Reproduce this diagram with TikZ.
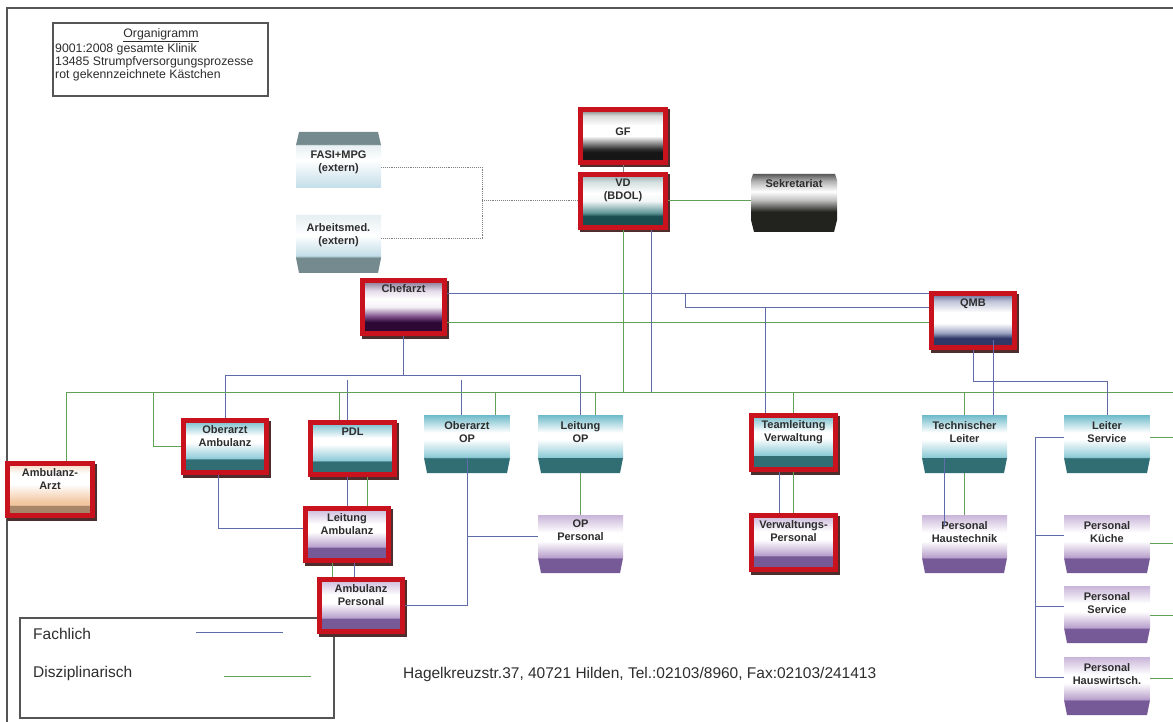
\documentclass[tikz,border=0pt]{standalone}
\usepackage{fontspec}
\setmainfont{Liberation Sans}
\usetikzlibrary{backgrounds}

\definecolor{fachc}{RGB}{96,108,170}
\definecolor{disc}{RGB}{98,160,88}
\definecolor{redf}{RGB}{200,18,30}
\definecolor{rshad}{RGB}{80,45,45}
\definecolor{framec}{RGB}{85,85,85}
\definecolor{txtc}{RGB}{45,45,45}
\definecolor{tTop}{RGB}{110,186,202}
\definecolor{tLow}{RGB}{140,202,214}
\definecolor{tBand}{RGB}{48,110,116}
\definecolor{pTop}{RGB}{200,180,216}
\definecolor{pLow}{RGB}{184,160,204}
\definecolor{pBand}{RGB}{118,90,152}
\definecolor{gfTop}{RGB}{108,108,108}
\definecolor{gfLt}{RGB}{216,216,216}
\definecolor{gfDk}{RGB}{48,48,48}
\definecolor{gfBand}{RGB}{22,22,22}
\definecolor{vdTop}{RGB}{143,165,168}
\definecolor{vdLt}{RGB}{213,224,224}
\definecolor{vdMid}{RGB}{95,148,150}
\definecolor{vdBand}{RGB}{26,77,80}
\definecolor{chTop}{RGB}{122,104,136}
\definecolor{chLt}{RGB}{230,220,234}
\definecolor{chMid}{RGB}{122,74,134}
\definecolor{chBand}{RGB}{45,8,52}
\definecolor{qmTop}{RGB}{90,96,144}
\definecolor{qmLt}{RGB}{192,196,216}
\definecolor{qmMid}{RGB}{160,166,196}
\definecolor{qmBand}{RGB}{46,55,102}
\definecolor{aaTop}{RGB}{244,213,187}
\definecolor{aaMid}{RGB}{242,198,160}
\definecolor{aaBand}{RGB}{168,132,104}
\definecolor{skTop}{RGB}{90,90,90}
\definecolor{skLt}{RGB}{176,176,176}
\definecolor{skMid}{RGB}{192,192,192}
\definecolor{skDk}{RGB}{34,34,30}
\definecolor{exBand}{RGB}{116,138,142}
\definecolor{exLt}{RGB}{230,239,242}
\definecolor{exLow}{RGB}{195,221,232}

\pgfdeclareverticalshading{tealsh}{100bp}{color(0bp)=(tBand); color(38bp)=(tBand); color(38.5bp)=(tLow); color(54bp)=(white); color(60bp)=(white); color(75bp)=(tTop); color(100bp)=(tTop)}
\pgfdeclareverticalshading{purpsh}{100bp}{color(0bp)=(pBand); color(37.5bp)=(pBand); color(38.5bp)=(pLow); color(52.5bp)=(white); color(60bp)=(white); color(75bp)=(pTop); color(100bp)=(pTop)}
\pgfdeclareverticalshading{gfsh}{100bp}{color(0bp)=(gfBand); color(35bp)=(gfBand); color(38bp)=(gfDk); color(50bp)=(white); color(60bp)=(white); color(69bp)=(gfLt); color(75bp)=(gfTop); color(100bp)=(gfTop)}
\pgfdeclareverticalshading{vdsh}{100bp}{color(0bp)=(vdBand); color(36bp)=(vdBand); color(39bp)=(vdMid); color(50bp)=(white!92!vdMid); color(57.5bp)=(white); color(67.5bp)=(vdLt); color(75bp)=(vdTop); color(100bp)=(vdTop)}
\pgfdeclareverticalshading{chsh}{100bp}{color(0bp)=(chBand); color(36bp)=(chBand); color(41bp)=(chMid); color(50bp)=(white!92!chMid); color(57.5bp)=(white); color(65bp)=(chLt); color(75bp)=(chTop); color(100bp)=(chTop)}
\pgfdeclareverticalshading{qmsh}{100bp}{color(0bp)=(qmBand); color(34bp)=(qmBand); color(39bp)=(qmMid); color(47.5bp)=(white); color(57.5bp)=(white); color(67.5bp)=(qmLt); color(75bp)=(qmTop); color(100bp)=(qmTop)}
\pgfdeclareverticalshading{aash}{100bp}{color(0bp)=(aaBand); color(35bp)=(aaBand); color(35.5bp)=(aaMid); color(38bp)=(aaMid); color(55bp)=(white); color(65bp)=(white); color(75bp)=(aaTop); color(100bp)=(aaTop)}
\pgfdeclareverticalshading{seksh}{100bp}{color(0bp)=(skDk); color(42.5bp)=(skDk); color(52.5bp)=(skMid); color(60bp)=(white); color(69bp)=(skLt); color(75bp)=(skTop); color(100bp)=(skTop)}
\pgfdeclareverticalshading{fash}{100bp}{color(0bp)=(exLow); color(25bp)=(exLow); color(50bp)=(white); color(63.5bp)=(exLt); color(64bp)=(exBand); color(75bp)=(exBand); color(100bp)=(exBand)}
\pgfdeclareverticalshading{arsh}{100bp}{color(0bp)=(exBand); color(38bp)=(exBand); color(40bp)=(exLow); color(57.5bp)=(white); color(75bp)=(exLt); color(100bp)=(exLt)}

\tikzset{
  fach/.style={draw=fachc, line width=1pt},
  dis/.style={draw=disc, line width=1pt},
  dotc/.style={draw=gray, line width=0.9pt, densely dotted},
  greyc/.style={draw=gray, line width=1pt},
  redframe/.style={draw=redf, line width=5pt},
  boxanchor/.style={rectangle, draw=none, inner sep=0pt, outer sep=0pt},
  lbl/.style={font=\bfseries\fontsize{11}{13}\selectfont, align=center, anchor=north, inner sep=0pt, text=txtc},
  legframe/.style={draw=framec, line width=1.1pt}
}

% red-framed box: [first-line baseline offset]{name}{x1}{y1}{x2}{y2}{shading}{text}
\newcommand{\RBox}[8][15]{%
  \fill[rshad] (#3+1.5,#4+2.5) rectangle (#5+1.5,#6+2.5);
  \shade[shading=#7] (#3+2,#4+2) rectangle (#5-2,#6-2);
  \draw[redframe] (#3+2.5,#4+2.5) rectangle (#5-2.5,#6-2.5);
  \node[boxanchor, minimum width={(#5-#3)*1pt}, minimum height={(#6-#4)*1pt}] (#2) at ({(#3+#5)/2},{(#4+#6)/2}) {};
  \node[lbl] at ({(#3+#5)/2},#4+#1-8) {#8};
}
% tab box with bevelled bottom band
\newcommand{\TBox}[8][15]{%
  \shade[shading=#7] (#3,#4) -- (#5,#4) -- (#5,#6-15) -- (#5-3,#6) -- (#3+3,#6) -- (#3,#6-15) -- cycle;
  \node[boxanchor, minimum width={(#5-#3)*1pt}, minimum height={(#6-#4)*1pt}] (#2) at ({(#3+#5)/2},{(#4+#6)/2}) {};
  \node[lbl] at ({(#3+#5)/2},#4+#1-8) {#8};
}

\begin{document}
\begin{tikzpicture}[x=1pt,y=-1pt]
\useasboundingbox (0,0) rectangle (1173,722);
\fill[white] (0,0) rectangle (1173,722);

% outer frame
\draw[draw=framec, line width=1.2pt] (7,722) -- (7,8) -- (1173,8);

% top-left legend
\draw[legframe] (53,23) rectangle (268,96);
\node[anchor=base, inner sep=0pt, font=\fontsize{12.3}{13.6}\selectfont, text=txtc] (legTitle) at (161,37.5) {\underline{Organigramm}};
\node[anchor=north west, align=left, inner sep=0pt, font=\fontsize{12.3}{13.4}\selectfont, text=txtc] (legText) at (55,43) {9001:2008 gesamte Klinik\\13485 Strumpfversorgungsprozesse\\rot gekennzeichnete Kästchen};

% bottom legend
\draw[legframe] (20,618) rectangle (334,718);
\node[anchor=base west, inner sep=0pt, font=\fontsize{15.5}{16}\selectfont, text=txtc] (legF) at (33,639.5) {Fachlich};
\node[anchor=base west, inner sep=0pt, font=\fontsize{15.5}{16}\selectfont, text=txtc] (legD) at (33,677.5) {Disziplinarisch};
\draw[fach] (196,632) -- (283,632);
\draw[dis] (224,676) -- (311,676);
\node[anchor=base west, inner sep=0pt, font=\fontsize{15.5}{16}\selectfont, text=txtc] (addr) at (403,678.5) {Hagelkreuzstr.37, 40721 Hilden, Tel.:02103/8960, Fax:02103/241413};

% external boxes
\shade[shading=fash] (299,132) -- (378,132) -- (381,145) -- (381,188) -- (296,188) -- (296,145) -- cycle;
\node[boxanchor, minimum width=85pt, minimum height=56pt] (fasi) at (338.5,160) {};
\node[lbl] at (338.5,151) {FASI+MPG\\(extern)};
\TBox[16]{arb}{296}{215}{381}{273}{arsh}{Arbeitsmed.\\(extern)}

% Sekretariat
\shade[shading=seksh] (753,174) -- (835,174) -- (837,180) -- (837,220) -- (834,232) -- (754,232) -- (751,220) -- (751,180) -- cycle;
\node[boxanchor, minimum width=86pt, minimum height=58pt] (sek) at (794,203) {};
\node[lbl] at (794,179) {Sekretariat};

% red boxes
\RBox[29]{gf}{578}{107}{668}{165}{gfsh}{GF}
\RBox{vd}{578}{172}{668}{230}{vdsh}{VD\\(BDOL)}
\RBox[14]{chef}{360}{278}{447}{336}{chsh}{Chefarzt}
\RBox[16]{qmb}{929}{291}{1017}{350}{qmsh}{QMB}
\RBox{oaa}{181}{418}{269}{475}{tealsh}{Oberarzt\\Ambulanz}
\RBox[16]{pdl}{308}{420}{397}{477}{tealsh}{PDL}
\RBox{aa}{5}{461}{95}{518}{aash}{Ambulanz-\\Arzt}
\RBox{la}{303}{506}{391}{563}{purpsh}{Leitung\\Ambulanz}
\RBox{ambp}{317}{577}{405}{634}{purpsh}{Ambulanz\\Personal}
\RBox{tv}{749}{413}{838}{472}{tealsh}{Teamleitung\\Verwaltung}
\RBox{vp}{749}{513}{838}{572}{purpsh}{Verwaltungs-\\Personal}

% tab boxes
\TBox[14]{oop}{424}{415}{510}{473}{tealsh}{Oberarzt\\OP}
\TBox[14]{lop}{538}{415}{623}{473}{tealsh}{Leitung\\OP}
\TBox[13]{opp}{538}{515}{623}{573}{purpsh}{OP\\Personal}
\TBox[14]{tl}{922}{415}{1007}{473}{tealsh}{Technischer\\Leiter}
\TBox[14]{ph}{922}{515}{1007}{573}{purpsh}{Personal\\Haustechnik}
\TBox[14]{ls}{1064}{415}{1150}{473}{tealsh}{Leiter\\Service}
\TBox[14]{pk}{1064}{515}{1150}{573}{purpsh}{Personal\\Küche}
\TBox[14]{ps}{1064}{586}{1150}{643}{purpsh}{Personal\\Service}
\TBox[14]{phw}{1064}{657}{1150}{715}{purpsh}{Personal\\Hauswirtsch.}

% ---- connectors ----
% dotted externals
\coordinate (dj) at (482,200);
\draw[dotc] ([yshift=-7pt]fasi.east) -| (dj);
\draw[dotc] ([yshift=6pt]arb.east) -| (dj);
\draw[dotc] (dj) -- (dj -| vd.west);

% GF - VD, VD - Sekretariat
\draw[greyc] (gf.south) -- (vd.north);
\draw[dis] (vd.east) -- (vd.east -| sek.west);

% Chefarzt left loop (behind Ambulanz-Arzt)
\coordinate (cL) at (52,450);
\begin{pgfonlayer}{background}
\draw[fach] (chef.west) -| (cL) |- (ambp.west);
\end{pgfonlayer}

% Chefarzt - QMB
\coordinate (c293) at ([yshift=14pt]chef.east);
\draw[fach] (c293) -- (c293 -| qmb.west);
\coordinate (c322) at ([yshift=-15pt]chef.east);
\draw[dis] (c322) -- (c322 -| qmb.west);
\coordinate (q307) at ([yshift=13.5pt]qmb.west);
\coordinate (j685) at (685,293);
\draw[fach] (q307) -| (j685);
\coordinate (t765) at (765,307);
\draw[fach] (t765) -- (t765 |- tv.north);

% Chefarzt tree
\coordinate (cb) at (403.5,375);
\draw[fach] (chef.south) -- (cb);
\draw[fach] (cb) -| (oaa.north);
\draw[fach] (cb) -| (lop.north);
\coordinate (s347) at (347,380);
\draw[fach] (s347) -- (s347 |- pdl.north);
\coordinate (s461) at (461,380);
\draw[fach] (s461) -- (s461 |- oop.north);

% main disciplinary line
\coordinate (gL) at (66,392);
\coordinate (gR) at (1173,392);
\draw[dis] (gL) -- (gR);
\draw[dis] (gL) -- (gL |- aa.north);
\coordinate (g153) at (153,392);
\draw[dis] (g153) |- (oaa.west);
\coordinate (g339) at (339,392);
\draw[dis] (g339) -- (g339 |- pdl.north);
\coordinate (g495) at (495,392);
\draw[dis] (g495) -- (g495 |- oop.north);
\coordinate (g595) at (595,392);
\draw[dis] (g595) -- (g595 |- lop.north);
\draw[dis] (vd.south) -- (vd.south |- gL);
\coordinate (b651) at (651,392);
\draw[fach] (b651 |- vd.south) -- (b651);
\draw[dis] (tv.north) -- (tv.north |- gL);
\draw[dis] (tl.north) -- (tl.north |- gL);

% QMB downwards
\coordinate (b993) at (993,340);
\draw[fach] (b993) -- (b993 |- tl.north);
\coordinate (j381) at (1107,381);
\draw[fach] (qmb.south) |- (j381) -- (ls.north);

% PDL - Leitung Ambulanz - Ambulanz Personal
\draw[fach] (la.north |- pdl.south) -- (la.north);
\coordinate (g367) at (367,490);
\draw[dis] (g367 |- pdl.south) -- (g367 |- la.north);
\coordinate (g332) at (332,570);
\draw[dis] (g332 |- la.south) -- (g332 |- ambp.north);
\coordinate (b354) at (354,570);
\draw[fach] (b354 |- la.south) -- (b354 |- ambp.north);
\coordinate (b218) at (218,528);
\draw[fach] (b218 |- oaa.south) -- (b218) -- (b218 -| la.west);

% Oberarzt OP
\draw[fach] ([yshift=15pt]oop.south) |- (ambp.east);
\coordinate (b536) at (467,536);
\draw[fach] (b536) -- (b536 -| opp.west);
\draw[dis] (lop.south) -- (opp.north);

% Verwaltung
\draw[dis] (tv.south) -- (vp.north);
\coordinate (b779) at (779,490);
\draw[fach] (b779 |- tv.south) -- (b779 |- vp.north);

% Technik
\draw[dis] (tl.south) -- (ph.north);
\coordinate (b944) at ([xshift=-20.5pt,yshift=15pt]tl.south);
\coordinate (b944e) at ([xshift=-20.5pt,yshift=-11pt]ph.north);
\draw[fach] (b944) -- (b944e);

% Service bracket
\coordinate (rx) at (1035,560);
\draw[fach] ([yshift=7pt]ls.west) -| (rx) |- ([yshift=9pt]phw.west);
\coordinate (rk) at (1035,535);
\draw[fach] (rk) -- (rk -| pk.west);
\coordinate (rs) at (1035,606);
\draw[fach] (rs) -- (rs -| ps.west);

% green stubs to the right edge
\coordinate (e437) at (1173,437);
\draw[dis] (e437 -| ls.east) -- (e437);
\coordinate (e543) at (1173,543);
\draw[dis] (e543 -| pk.east) -- (e543);
\coordinate (e615) at (1173,615);
\draw[dis] (e615 -| ps.east) -- (e615);
\coordinate (e678) at (1173,678);
\draw[dis] (e678 -| phw.east) -- (e678);
\end{tikzpicture}
\end{document}
